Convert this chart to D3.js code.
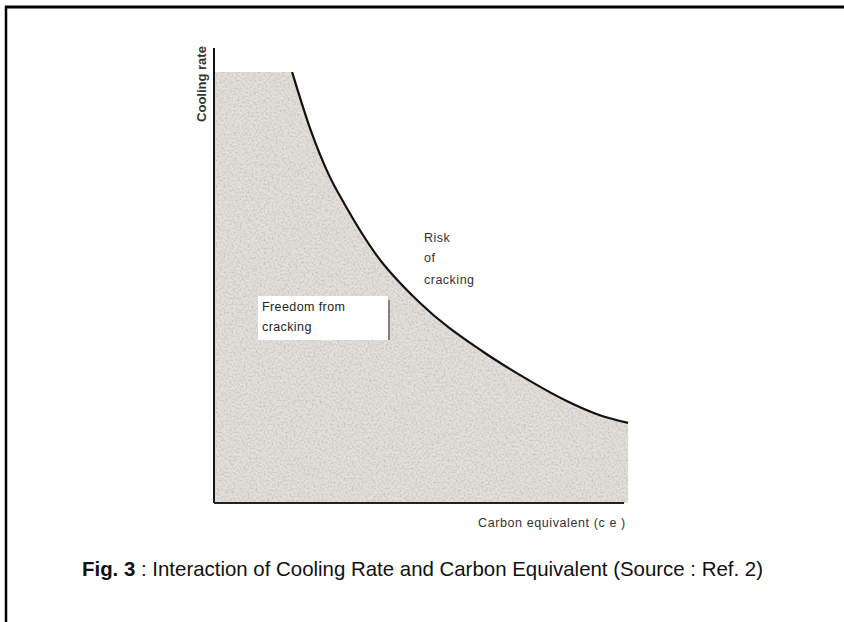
<!DOCTYPE html>
<html>
<head>
<meta charset="utf-8">
<script src="https://cdn.jsdelivr.net/npm/d3@7"></script>
<style>
  html, body { margin: 0; padding: 0; background: #fff; }
  svg { display: block; }
</style>
</head>
<body>
<div id="chart"></div>
<script>
// curve (carbon equivalent vs cooling rate, arbitrary units 0-100)
var ceValues = [18.6, 23.0, 27.4, 31.2, 38.6, 49.0, 63.8, 72.9, 83.6, 91.9, 98.6]
var rateValues = [94.7, 82.0, 72.0, 65.5, 54.6, 44.0, 33.4, 28.1, 22.6, 19.3, 17.6]
var shadeTop = 94.7
var labels = {
    y: 'Cooling rate',
    x: 'Carbon equivalent (c e )',
    risk: ['Risk', 'of', 'cracking'],
    safe: ['Freedom from', 'cracking'],
    figNo: 'Fig. 3',
    caption: ' : Interaction of Cooling Rate and Carbon Equivalent (Source : Ref. 2)'
}

var width = 844, height = 622

var svg = d3.select('#chart').append('svg')
    .attr('width', width)
    .attr('height', height)

var x = d3.scaleLinear().domain([0, 100]).range([214, 634])
var y = d3.scaleLinear().domain([0, 100]).range([503, 48])

var pts = ceValues.map(function(d, i) { return [d, rateValues[i]] })

// grainy grey fill like the photocopy
var defs = svg.append('defs')
var grain = defs.append('filter').attr('id', 'grain')
    .attr('x', 0).attr('y', 0).attr('width', 1).attr('height', 1)
grain.append('feTurbulence')
    .attr('type', 'fractalNoise')
    .attr('baseFrequency', 0.5)
    .attr('numOctaves', 3)
    .attr('seed', 7)
    .attr('result', 'noise')
grain.append('feColorMatrix')
    .attr('in', 'noise')
    .attr('type', 'matrix')
    .attr('values', '0 0 0 0 0.55  0 0 0 0 0.53  0 0 0 0 0.50  2.2 0 0 0 -0.85')
    .attr('result', 'specks')
grain.append('feComposite')
    .attr('in', 'specks')
    .attr('in2', 'SourceGraphic')
    .attr('operator', 'in')
    .attr('result', 'clipped')
grain.append('feMerge').selectAll('feMergeNode')
    .data(['SourceGraphic', 'clipped'])
    .join('feMergeNode')
    .attr('in', function(d) { return d })

var line = d3.line()
    .x(function(d) { return x(d[0]) })
    .y(function(d) { return y(d[1]) })
    .curve(d3.curveMonotoneX)

var last = pts[pts.length - 1]
var areaPath = 'M' + x(0) + ',' + y(shadeTop) +
    line(pts).replace(/^M/, 'L') +
    'L' + x(last[0]) + ',' + y(0) +
    'L' + x(0) + ',' + y(0) + 'Z'

svg.append('path')
    .attr('d', areaPath)
    .attr('fill', '#e4e1db')
    .attr('filter', 'url(#grain)')

// the boundary curve
svg.append('path')
    .attr('d', line(pts))
    .attr('fill', 'none')
    .attr('stroke', '#111')
    .attr('stroke-width', 2.2)

// axes (bare lines, no ticks)
svg.append('line')
    .attr('x1', x(0)).attr('x2', x(0))
    .attr('y1', y(100)).attr('y2', y(0))
    .attr('stroke', '#111').attr('stroke-width', 2)
svg.append('line')
    .attr('x1', x(0)).attr('x2', x(100) - 10)
    .attr('y1', y(0)).attr('y2', y(0))
    .attr('stroke', '#222').attr('stroke-width', 2)

var font = '"Liberation Sans Narrow", "Liberation Sans", Arial, sans-serif'

svg.append('text')
    .attr('transform', 'translate(206,84) rotate(-90)')
    .attr('text-anchor', 'middle')
    .attr('font-family', font)
    .attr('font-size', 13)
    .attr('font-weight', 'bold')
    .attr('fill', '#333')
    .text(labels.y)

svg.append('text')
    .attr('x', 478).attr('y', 527)
    .attr('font-family', font)
    .attr('font-size', 12.5)
    .attr('letter-spacing', 0.6)
    .attr('fill', '#333')
    .text(labels.x)

svg.append('g').selectAll('text')
    .data(labels.risk)
    .join('text')
    .attr('x', 424)
    .attr('y', function(d, i) { return [242, 262, 284][i] })
    .attr('font-family', font)
    .attr('font-size', 12.5)
    .attr('letter-spacing', 0.5)
    .attr('fill', '#333')
    .text(function(d) { return d })

// white label box inside the shaded region
svg.append('rect')
    .attr('x', 258).attr('y', 296)
    .attr('width', 130).attr('height', 44)
    .attr('fill', '#fff')
svg.append('line')
    .attr('x1', 389).attr('x2', 389)
    .attr('y1', 300).attr('y2', 340)
    .attr('stroke', '#444').attr('stroke-width', 1.2)
svg.append('g').selectAll('text')
    .data(labels.safe)
    .join('text')
    .attr('x', 262)
    .attr('y', function(d, i) { return [311, 331][i] })
    .attr('font-family', font)
    .attr('font-size', 12.5)
    .attr('letter-spacing', 0.4)
    .attr('fill', '#222')
    .text(function(d) { return d })

// caption, narrow face squeezed to the original width
var cap = svg.append('text')
    .attr('x', 82).attr('y', 576)
    .attr('font-family', font)
    .attr('font-size', 21)
    .attr('textLength', 681)
    .attr('lengthAdjust', 'spacingAndGlyphs')
    .attr('fill', '#111')
cap.append('tspan').attr('font-weight', 'bold').text(labels.figNo)
cap.append('tspan').text(labels.caption)

// frame (top and left edges only are visible)
svg.append('line')
    .attr('x1', 5).attr('x2', width)
    .attr('y1', 7).attr('y2', 7)
    .attr('stroke', '#000').attr('stroke-width', 3)
svg.append('line')
    .attr('x1', 6).attr('x2', 6)
    .attr('y1', 6).attr('y2', height)
    .attr('stroke', '#000').attr('stroke-width', 2.5)
</script>
</body>
</html>
